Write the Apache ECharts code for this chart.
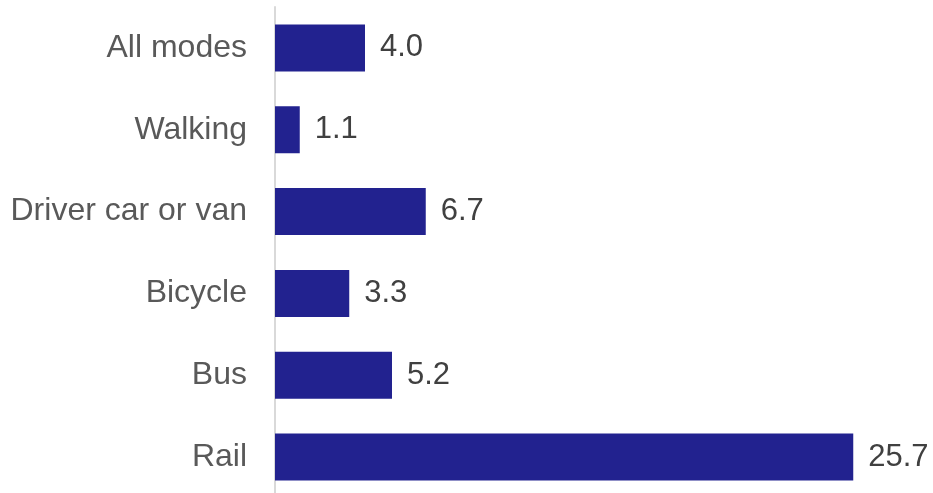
<!DOCTYPE html>
<html>
<head>
<meta charset="utf-8">
<script src="https://cdn.jsdelivr.net/npm/echarts@6/dist/echarts.min.js"></script>
<style>
  html, body { margin: 0; padding: 0; background: #ffffff; overflow: hidden; }
  #chart { width: 933px; height: 498px; }
</style>
</head>
<body>
<div id="chart"></div>
<script>
// Travel modes, listed top to bottom
const modes = ['All modes', 'Walking', 'Driver car or van', 'Bicycle', 'Bus', 'Rail'];
// Value for each mode
const values = [4.0, 1.1, 6.7, 3.3, 5.2, 25.7];

const chart = echarts.init(document.getElementById('chart'), null, { renderer: 'canvas' });

chart.setOption({
  animation: false,
  backgroundColor: '#ffffff',
  grid: { left: 275, top: 7, bottom: 0, width: 630, containLabel: false },
  xAxis: {
    type: 'value',
    min: 0,
    max: 28,
    show: false
  },
  yAxis: {
    type: 'category',
    data: modes,
    inverse: true,
    axisLine: { show: true, lineStyle: { color: '#d9d9d9', width: 2 } },
    axisTick: { show: false },
    axisLabel: {
      margin: 28,
      color: '#595959',
      fontFamily: 'Liberation Sans, Arial, sans-serif',
      fontSize: 32
    }
  },
  series: [{
    type: 'bar',
    data: values,
    barWidth: 47,
    itemStyle: { color: '#22228f' },
    label: {
      show: true,
      position: 'right',
      distance: 15,
      color: '#404040',
      fontFamily: 'Liberation Sans, Arial, sans-serif',
      fontSize: 31,
      formatter: p => p.value.toFixed(1)
    }
  }]
});
</script>
</body>
</html>
